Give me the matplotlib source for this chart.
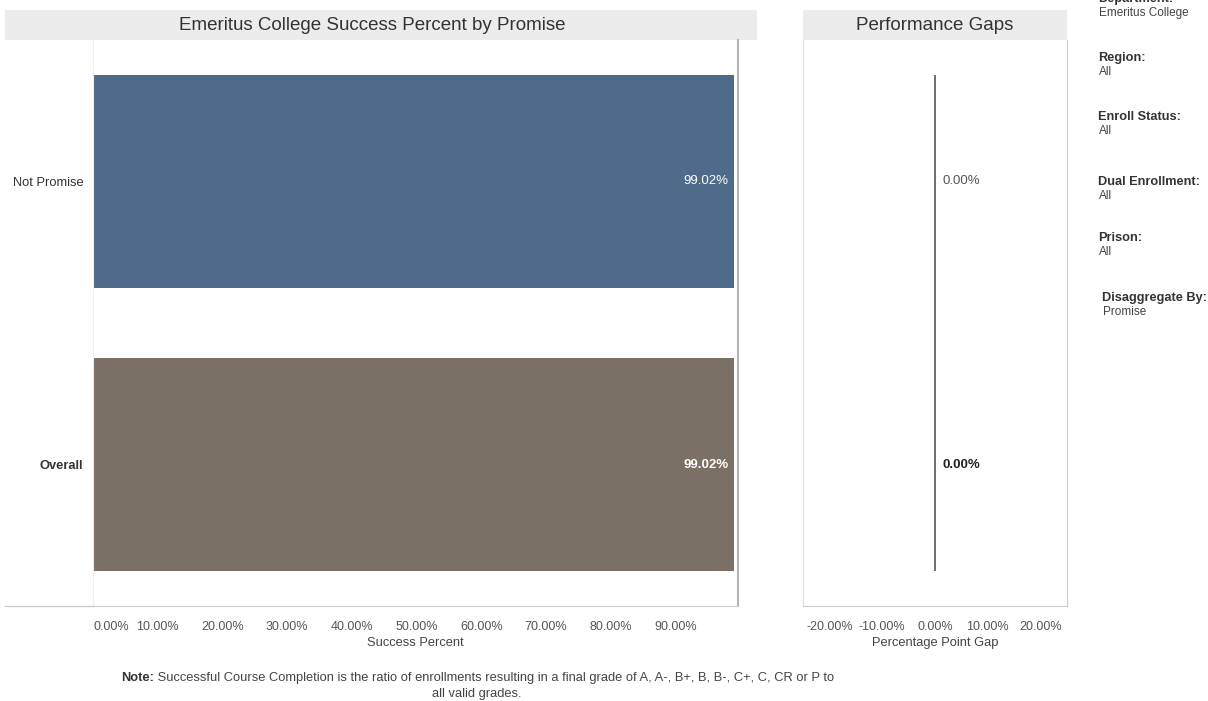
import matplotlib
matplotlib.use("Agg")
import matplotlib.pyplot as plt
from matplotlib.patches import Rectangle
from matplotlib.lines import Line2D

plt.rcParams['font.family'] = ['Liberation Sans', 'DejaVu Sans']

# ---- data ----
categories = ['Not Promise', 'Overall']
success_pct = [99.02, 99.02]
gap_pct = [0.00, 0.00]
bar_colors = ['#4e6b8a', '#7b7066']
left_ticks = [0, 10, 20, 30, 40, 50, 60, 70, 80, 90]
right_ticks = [-20, -10, 0, 10, 20]
filter_labels = ['Department:', 'Region:', 'Enroll Status:', 'Dual Enrollment:', 'Prison:', 'Disaggregate By:']
filter_values = ['Emeritus College', 'All', 'All', 'All', 'All', 'Promise']
title_left = 'Emeritus College Success Percent by Promise'
title_right = 'Performance Gaps'
note_bold = 'Note:'
note_text = ' Successful Course Completion is the ratio of enrollments resulting in a final grade of A, A-, B+, B, B-, C+, C, CR or P to'
note_text2 = 'all valid grades.'

W, H = 1208, 701
fig = plt.figure(figsize=(W / 100, H / 100), dpi=100)
fig.patch.set_facecolor('white')


def fx(px):
    return px / W


def fy(py):
    return 1 - py / H


def ax_rect(x0, y0, x1, y1):
    return [fx(x0), fy(y1), fx(x1) - fx(x0), fy(y0) - fy(y1)]


# title bands
for (x0, x1, t, cx) in [(5, 757, title_left, 372), (803, 1067, title_right, 935)]:
    fig.add_artist(Rectangle((fx(x0), fy(40)), fx(x1) - fx(x0), fy(10) - fy(40),
                             transform=fig.transFigure, facecolor='#ececec',
                             edgecolor='none', zorder=0))
    fig.text(fx(cx), fy(25), t, ha='center', va='center', fontsize=13.5, color='#333333')

ypos = list(range(len(categories)))
bar_h = 0.75

# ---- left panel ----
ax1 = fig.add_axes(ax_rect(93, 40, 738, 606))
ax1.barh(ypos, success_pct, height=bar_h, color=bar_colors, zorder=2)
ax1.set_xlim(0, 99.64)
ax1.set_ylim(1.5, -0.5)
ax1.set_yticks(ypos)
ax1.set_yticklabels(categories, fontsize=9.3, color='#333333')
for lbl, w in zip(ax1.get_yticklabels(), ['normal', 'bold']):
    lbl.set_fontweight(w)
ax1.set_xticks(left_ticks)
ax1.set_xticklabels([f'{v:.2f}%' for v in left_ticks], fontsize=9, color='#555555')
ax1.get_xticklabels()[0].set_horizontalalignment('left')
ax1.tick_params(axis='both', length=0)
ax1.tick_params(axis='x', pad=11)
ax1.tick_params(axis='y', pad=7)
ax1.set_xlabel('Success Percent', fontsize=9.3, color='#444444', labelpad=3)
ax1.spines['top'].set_visible(False)
ax1.spines['left'].set_color('#eeeeee')
ax1.spines['right'].set_color('#b5b5b5')
ax1.spines['right'].set_linewidth(1.5)
ax1.spines['bottom'].set_color('#cccccc')
for y, v, w in zip(ypos, success_pct, ['normal', 'bold']):
    ax1.text(v - 0.9, y, f'{v:.2f}%', ha='right', va='center', color='white',
             fontsize=9.5, fontweight=w, zorder=3)

# bottom line extended left
fig.add_artist(Line2D([fx(5), fx(93)], [fy(606), fy(606)], transform=fig.transFigure,
                      color='#cccccc', lw=1))

# ---- right panel ----
ax2 = fig.add_axes(ax_rect(803, 40, 1067, 606))
ax2.barh(ypos, gap_pct, height=bar_h, color=bar_colors, zorder=2)
ax2.set_xlim(-25, 25)
ax2.set_ylim(1.5, -0.5)
ax2.vlines(0, -bar_h / 2, len(categories) - 1 + bar_h / 2, color='#555555', lw=1.2, zorder=3)
ax2.set_yticks([])
ax2.set_xticks(right_ticks)
ax2.set_xticklabels([f'{v:.2f}%' for v in right_ticks], fontsize=9, color='#555555')
ax2.tick_params(axis='x', length=0, pad=11)
ax2.set_xlabel('Percentage Point Gap', fontsize=9.3, color='#444444', labelpad=3)
ax2.spines['top'].set_visible(False)
ax2.spines['left'].set_color('#dddddd')
ax2.spines['right'].set_color('#cccccc')
ax2.spines['bottom'].set_color('#cccccc')
for y, v, w, c in zip(ypos, gap_pct, ['normal', 'bold'], ['#555555', '#222222']):
    ax2.text(v + 1.4, y, f'{v:.2f}%', ha='left', va='center', color=c,
             fontsize=9.5, fontweight=w, zorder=3)

# ---- filter panel ----
label_y = [-1, 58, 117, 182, 238, 298]
label_x = [1098, 1098, 1098, 1098, 1098, 1102]
for lab, val, yy, xx in zip(filter_labels, filter_values, label_y, label_x):
    fig.text(fx(xx), fy(yy), lab, ha='left', va='center', fontsize=9.2,
             fontweight='bold', color='#333333')
    fig.text(fx(xx + 1), fy(yy + 14), val, ha='left', va='center', fontsize=8.5,
             color='#444444')

# ---- note ----
t1 = fig.text(fx(121), fy(678), note_bold, ha='left', va='center', fontsize=9.3,
              fontweight='bold', color='#333333')
fig.canvas.draw()
bb = t1.get_window_extent()
fig.text(bb.x1 / W, fy(678), note_text, ha='left', va='center', fontsize=9.3, color='#444444')
fig.text(fx(477), fy(694), note_text2, ha='center', va='center', fontsize=9.3, color='#444444')

fig.savefig('out.png', dpi=100, facecolor='white')
